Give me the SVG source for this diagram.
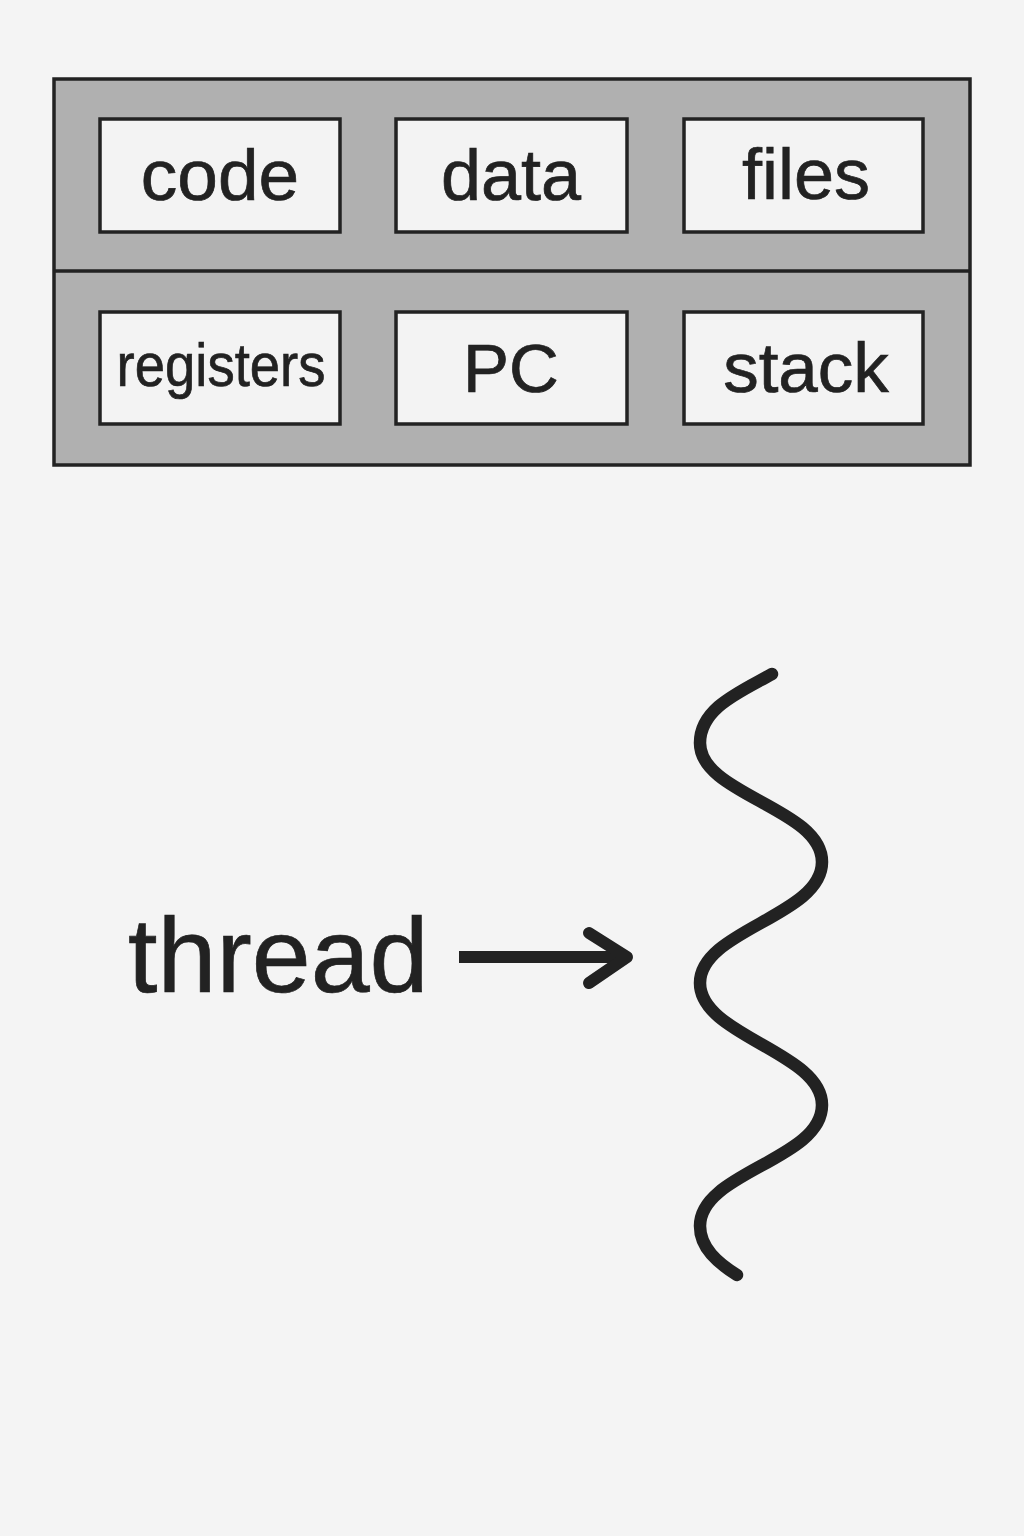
<svg xmlns="http://www.w3.org/2000/svg" width="1024" height="1536" viewBox="0 0 1024 1536">
<style>
.box{fill:#f3f3f3;stroke:#222;stroke-width:3.5}
.lbl{font-family:"Liberation Sans",Arial,sans-serif;fill:#222;stroke:#222;stroke-width:0.7;text-anchor:middle}
.ink{fill:none;stroke:#222;stroke-linecap:round;stroke-linejoin:round}
</style>
<rect x="0" y="0" width="1024" height="1536" fill="#f4f4f4"/>
<g id="process">
<rect x="54" y="79" width="916" height="386" fill="#b0b0b0" stroke="#222" stroke-width="3.5"/>
<line x1="54" y1="271" x2="970" y2="271" stroke="#222" stroke-width="3.5"/>
</g>
<g id="code"><rect class="box" x="100" y="119" width="240" height="113"/><text class="lbl" x="220" y="200" font-size="73">code</text></g>
<g id="data"><rect class="box" x="396" y="119" width="231" height="113"/><text class="lbl" x="511" y="200" font-size="72">data</text></g>
<g id="files"><rect class="box" x="684" y="119" width="239" height="113"/><text class="lbl" x="806" y="199" font-size="72">files</text></g>
<g id="registers"><rect class="box" x="100" y="312" width="240" height="112"/><text class="lbl" x="221" y="386" font-size="62" textLength="209" lengthAdjust="spacingAndGlyphs">registers</text></g>
<g id="pc"><rect class="box" x="396" y="312" width="231" height="112"/><text class="lbl" x="511" y="392" font-size="69">PC</text></g>
<g id="stack"><rect class="box" x="684" y="312" width="239" height="112"/><text class="lbl" x="806" y="392" font-size="71">stack</text></g>
<g id="thread-label"><text class="lbl" x="128" y="992" font-size="106" style="text-anchor:start">thread</text></g>
<g id="connectors">
<line class="ink" x1="459" y1="957" x2="624" y2="957" stroke-width="12" style="stroke-linecap:butt"/>
<polyline class="ink" points="589,933 627,957 589,983" stroke-width="12"/>
</g>
<g id="thread">
<path class="ink" stroke-width="12.5" d="M772,674 C740,692 700,708 700,743 C700,795 822,808 822,862 C822,916 700,930 700,983 C700,1036 822,1052 822,1105 C822,1160 700,1172 700,1226 C700,1248 718,1263 737,1275"/>
</g>
</svg>
